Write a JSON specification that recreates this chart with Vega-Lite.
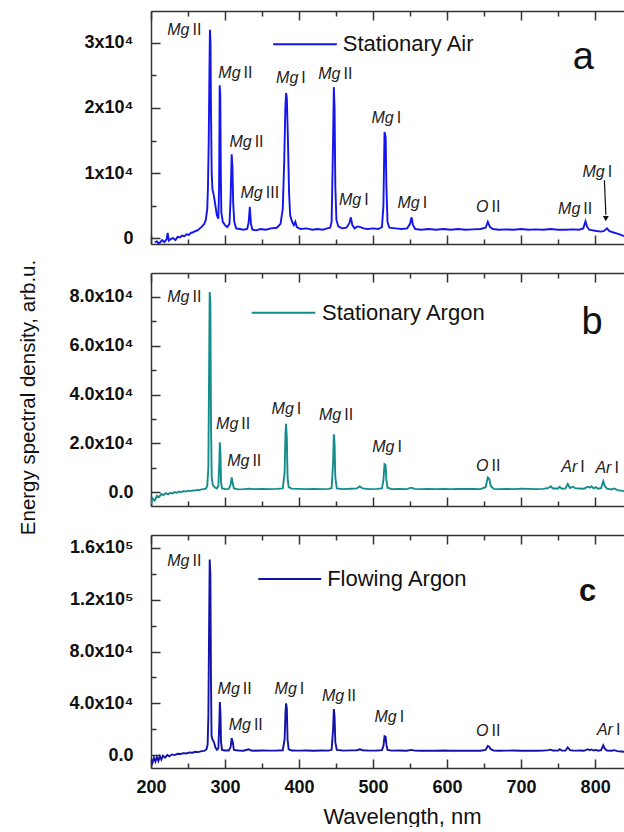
{
"$schema":"https://vega.github.io/schema/vega-lite/v6.json",
"autosize":{"type":"pad"},
"padding":{"left":18,"top":10,"right":0,"bottom":0},
"background":"white",
"spacing":29,
"bounds":"flush",
"config":{"view":{"stroke":null},"font":"Liberation Sans",
"axis":{"labelFont":"Liberation Sans","labelFontWeight":"bold","labelFontSize":18,"labelColor":"#111","domainColor":"#333","domainWidth":1.5,"tickColor":"#333","tickWidth":1.5,"grid":false,"titleFont":"Liberation Sans","titleFontWeight":"normal","titleColor":"#111","labelFlush":false,"labelOverlap":false,"labelBound":false}},
"datasets":{
"a":[{"x":205,"y":-600},{"x":208,"y":-500},{"x":210,"y":-800},{"x":212,"y":-700},{"x":215,"y":-300},{"x":218,"y":-600},{"x":221,"y":-200},{"x":222.5,"y":800},{"x":224,"y":-400},{"x":227,"y":-100},{"x":230,"y":0},{"x":233,"y":-300},{"x":236,"y":200},{"x":239,"y":100},{"x":242,"y":400},{"x":245,"y":300},{"x":248,"y":600},{"x":251,"y":500},{"x":254,"y":800},{"x":257,"y":900},{"x":260,"y":1100},{"x":263,"y":1200},{"x":266,"y":1500},{"x":269,"y":1800},{"x":272,"y":2200},{"x":274,"y":2800},{"x":276,"y":4500},{"x":277,"y":8000},{"x":278,"y":15000},{"x":279,"y":26000},{"x":279.6,"y":32000},{"x":280.4,"y":30000},{"x":281,"y":20000},{"x":282,"y":10000},{"x":283,"y":7500},{"x":285,"y":6500},{"x":287,"y":5000},{"x":289,"y":3500},{"x":291,"y":3000},{"x":292,"y":8000},{"x":292.8,"y":23500},{"x":293.6,"y":22000},{"x":294.3,"y":10000},{"x":295,"y":4000},{"x":297,"y":2500},{"x":300,"y":2000},{"x":303,"y":1700},{"x":306,"y":2200},{"x":307.5,"y":6000},{"x":309,"y":12900},{"x":310,"y":11000},{"x":311,"y":5500},{"x":312.5,"y":2500},{"x":315,"y":1500},{"x":320,"y":1400},{"x":325,"y":1300},{"x":330,"y":1400},{"x":332,"y":2500},{"x":333.5,"y":4800},{"x":335,"y":2200},{"x":337,"y":1300},{"x":342,"y":1200},{"x":348,"y":1400},{"x":355,"y":1300},{"x":362,"y":1500},{"x":370,"y":1600},{"x":375,"y":2200},{"x":378,"y":4500},{"x":380,"y":12000},{"x":381.5,"y":20000},{"x":382.5,"y":22300},{"x":383.5,"y":21500},{"x":385,"y":15000},{"x":386.5,"y":7000},{"x":388,"y":3500},{"x":391,"y":2400},{"x":393,"y":2000},{"x":395,"y":2500},{"x":397,"y":1700},{"x":402,"y":1400},{"x":410,"y":1500},{"x":418,"y":1300},{"x":425,"y":1400},{"x":432,"y":1300},{"x":438,"y":1500},{"x":442,"y":1600},{"x":444,"y":2500},{"x":446,"y":15000},{"x":447,"y":23200},{"x":448,"y":20000},{"x":449,"y":8000},{"x":450.5,"y":2800},{"x":453,"y":1800},{"x":458,"y":1500},{"x":464,"y":1600},{"x":468,"y":2300},{"x":470,"y":3200},{"x":472,"y":2000},{"x":475,"y":1500},{"x":479,"y":1800},{"x":483,"y":1700},{"x":487,"y":1500},{"x":493,"y":1400},{"x":500,"y":1500},{"x":507,"y":1400},{"x":512,"y":1700},{"x":514,"y":5000},{"x":515.5,"y":16300},{"x":517,"y":15500},{"x":518,"y":8000},{"x":519.5,"y":2500},{"x":522,"y":1600},{"x":530,"y":1500},{"x":538,"y":1400},{"x":546,"y":1500},{"x":550,"y":2200},{"x":552,"y":3200},{"x":554,"y":2000},{"x":557,"y":1400},{"x":565,"y":1300},{"x":575,"y":1400},{"x":585,"y":1300},{"x":595,"y":1400},{"x":605,"y":1300},{"x":615,"y":1400},{"x":625,"y":1300},{"x":635,"y":1350},{"x":645,"y":1400},{"x":652,"y":1600},{"x":655,"y":2500},{"x":658,"y":1700},{"x":662,"y":1400},{"x":670,"y":1300},{"x":680,"y":1350},{"x":690,"y":1300},{"x":700,"y":1400},{"x":710,"y":1300},{"x":720,"y":1350},{"x":730,"y":1300},{"x":740,"y":1400},{"x":750,"y":1300},{"x":760,"y":1300},{"x":770,"y":1350},{"x":778,"y":1300},{"x":784,"y":1500},{"x":787,"y":2600},{"x":789,"y":1800},{"x":792,"y":1300},{"x":797,"y":1200},{"x":802,"y":1100},{"x":808,"y":1000},{"x":812,"y":1100},{"x":816,"y":1500},{"x":819,"y":1100},{"x":824,"y":900},{"x":830,"y":700},{"x":835,"y":500},{"x":839,"y":300}],
"b":[{"x":200,"y":-4900},{"x":202,"y":-2500},{"x":205,"y":-3500},{"x":208,"y":-1500},{"x":211,"y":-2000},{"x":214,"y":-800},{"x":217,"y":-1200},{"x":220,"y":-400},{"x":223,"y":-900},{"x":226,"y":-300},{"x":229,"y":-600},{"x":232,"y":0},{"x":235,"y":-300},{"x":238,"y":200},{"x":241,"y":0},{"x":244,"y":400},{"x":247,"y":200},{"x":250,"y":600},{"x":253,"y":400},{"x":256,"y":700},{"x":259,"y":600},{"x":262,"y":900},{"x":265,"y":800},{"x":268,"y":1100},{"x":271,"y":1200},{"x":274,"y":1400},{"x":276,"y":2500},{"x":277.5,"y":10000},{"x":278.5,"y":50000},{"x":279.3,"y":82000},{"x":280.2,"y":78000},{"x":281,"y":30000},{"x":282,"y":6000},{"x":283.5,"y":3000},{"x":286,"y":2000},{"x":289,"y":1500},{"x":291,"y":2500},{"x":292.3,"y":12000},{"x":293,"y":20400},{"x":293.8,"y":16000},{"x":294.6,"y":4000},{"x":296,"y":1500},{"x":300,"y":1200},{"x":305,"y":1300},{"x":307.5,"y":3000},{"x":309,"y":6000},{"x":310.5,"y":3500},{"x":312,"y":1500},{"x":318,"y":1100},{"x":325,"y":1200},{"x":332,"y":1400},{"x":340,"y":1200},{"x":350,"y":1300},{"x":360,"y":1200},{"x":370,"y":1300},{"x":378,"y":1500},{"x":380.5,"y":8000},{"x":381.7,"y":24000},{"x":382.5,"y":28000},{"x":383.5,"y":22000},{"x":384.5,"y":6000},{"x":386,"y":2000},{"x":390,"y":1400},{"x":400,"y":1300},{"x":410,"y":1200},{"x":420,"y":1300},{"x":430,"y":1200},{"x":440,"y":1300},{"x":444,"y":1600},{"x":446,"y":12000},{"x":447,"y":23700},{"x":448,"y":20000},{"x":449,"y":6000},{"x":451,"y":1500},{"x":460,"y":1200},{"x":470,"y":1400},{"x":478,"y":1500},{"x":482,"y":2300},{"x":486,"y":1500},{"x":495,"y":1200},{"x":505,"y":1300},{"x":512,"y":1500},{"x":514,"y":5000},{"x":515.5,"y":11400},{"x":517,"y":11000},{"x":518,"y":5000},{"x":519.5,"y":1800},{"x":525,"y":1200},{"x":535,"y":1300},{"x":545,"y":1200},{"x":552,"y":1800},{"x":556,"y":1300},{"x":565,"y":1200},{"x":575,"y":1300},{"x":585,"y":1200},{"x":595,"y":1300},{"x":605,"y":1200},{"x":615,"y":1300},{"x":625,"y":1250},{"x":635,"y":1300},{"x":645,"y":1200},{"x":652,"y":2000},{"x":655,"y":6000},{"x":657,"y":5500},{"x":659,"y":2500},{"x":663,"y":1300},{"x":670,"y":1200},{"x":680,"y":1300},{"x":690,"y":1200},{"x":700,"y":1400},{"x":710,"y":1300},{"x":720,"y":1200},{"x":730,"y":1300},{"x":737,"y":1700},{"x":740,"y":2400},{"x":743,"y":1500},{"x":750,"y":1500},{"x":752,"y":2200},{"x":755,"y":1400},{"x":760,"y":1500},{"x":763,"y":3300},{"x":766,"y":1700},{"x":770,"y":2200},{"x":773,"y":1600},{"x":778,"y":1500},{"x":785,"y":1400},{"x":790,"y":2200},{"x":793,"y":1800},{"x":795,"y":2400},{"x":798,"y":1500},{"x":801,"y":2000},{"x":804,"y":1400},{"x":808,"y":1600},{"x":811,"y":4500},{"x":813,"y":2500},{"x":816,"y":1400},{"x":822,"y":1100},{"x":826,"y":1500},{"x":830,"y":800},{"x":835,"y":600},{"x":839,"y":400}],
"c":[{"x":200,"y":-3000},{"x":202,"y":-6000},{"x":204,"y":-2000},{"x":206,"y":-5000},{"x":208,"y":-1500},{"x":210,"y":-4500},{"x":212,"y":-1000},{"x":214,"y":-3500},{"x":216,"y":-500},{"x":219,"y":-2000},{"x":222,"y":0},{"x":225,"y":-1000},{"x":228,"y":500},{"x":232,"y":0},{"x":236,"y":1000},{"x":240,"y":800},{"x":244,"y":1500},{"x":248,"y":1200},{"x":252,"y":2000},{"x":256,"y":1800},{"x":260,"y":2500},{"x":264,"y":2300},{"x":268,"y":3000},{"x":272,"y":3200},{"x":275,"y":4500},{"x":276.5,"y":8000},{"x":277.5,"y":30000},{"x":278.5,"y":100000},{"x":279.3,"y":151000},{"x":280.2,"y":140000},{"x":281,"y":60000},{"x":281.8,"y":15000},{"x":283,"y":12000},{"x":285,"y":10000},{"x":287,"y":6000},{"x":289,"y":4000},{"x":291,"y":5000},{"x":292.3,"y":25000},{"x":293,"y":41000},{"x":293.8,"y":33000},{"x":294.6,"y":10000},{"x":296,"y":4000},{"x":300,"y":3500},{"x":305,"y":3500},{"x":307.5,"y":6000},{"x":309,"y":13000},{"x":310.5,"y":10000},{"x":312,"y":4000},{"x":318,"y":3500},{"x":325,"y":3300},{"x":332,"y":4500},{"x":335,"y":3500},{"x":340,"y":3300},{"x":350,"y":3500},{"x":360,"y":3400},{"x":370,"y":3500},{"x":378,"y":3700},{"x":380.5,"y":12000},{"x":381.7,"y":33000},{"x":382.5,"y":40000},{"x":383.5,"y":36000},{"x":384.5,"y":12000},{"x":386,"y":4500},{"x":390,"y":3500},{"x":400,"y":3400},{"x":410,"y":3500},{"x":420,"y":3300},{"x":430,"y":3500},{"x":440,"y":3400},{"x":444,"y":4000},{"x":446,"y":20000},{"x":447,"y":35500},{"x":448,"y":30000},{"x":449,"y":10000},{"x":451,"y":4000},{"x":460,"y":3400},{"x":470,"y":3600},{"x":478,"y":3700},{"x":482,"y":4500},{"x":486,"y":3700},{"x":495,"y":3400},{"x":505,"y":3500},{"x":512,"y":3800},{"x":514,"y":7000},{"x":515.5,"y":14500},{"x":517,"y":14000},{"x":518,"y":8000},{"x":519.5,"y":4000},{"x":525,"y":3400},{"x":535,"y":3500},{"x":545,"y":3300},{"x":552,"y":4000},{"x":556,"y":3400},{"x":565,"y":3300},{"x":575,"y":3400},{"x":585,"y":3300},{"x":595,"y":3500},{"x":605,"y":3300},{"x":615,"y":3400},{"x":625,"y":3300},{"x":635,"y":3400},{"x":645,"y":3300},{"x":652,"y":4000},{"x":655,"y":7000},{"x":657,"y":6500},{"x":659,"y":4500},{"x":663,"y":3400},{"x":670,"y":3300},{"x":680,"y":3400},{"x":690,"y":3500},{"x":700,"y":3300},{"x":710,"y":3400},{"x":720,"y":3300},{"x":730,"y":3400},{"x":737,"y":3800},{"x":740,"y":4200},{"x":743,"y":3500},{"x":750,"y":3400},{"x":752,"y":4500},{"x":755,"y":3500},{"x":760,"y":3400},{"x":763,"y":6000},{"x":766,"y":3800},{"x":770,"y":3500},{"x":775,"y":3400},{"x":780,"y":3500},{"x":785,"y":3300},{"x":790,"y":4500},{"x":793,"y":3800},{"x":795,"y":4300},{"x":798,"y":3500},{"x":801,"y":4000},{"x":804,"y":3400},{"x":808,"y":3800},{"x":811,"y":7500},{"x":813,"y":5000},{"x":816,"y":3500},{"x":822,"y":3300},{"x":826,"y":3800},{"x":830,"y":3000},{"x":835,"y":2700},{"x":839,"y":2500}],
"labels":[
{"p":"a","x":254,"y":32000,"el":"Mg","ion":"II"},{"p":"a","x":323,"y":25400,"el":"Mg","ion":"II"},{"p":"a","x":338,"y":14800,"el":"Mg","ion":"II"},{"p":"a","x":353,"y":6900,"el":"Mg","ion":"III"},{"p":"a","x":401,"y":24600,"el":"Mg","ion":"I"},{"p":"a","x":458,"y":25200,"el":"Mg","ion":"II"},{"p":"a","x":486,"y":5800,"el":"Mg","ion":"I"},{"p":"a","x":530,"y":18500,"el":"Mg","ion":"I"},{"p":"a","x":565,"y":5400,"el":"Mg","ion":"I"},{"p":"a","x":658,"y":4800,"el":"O","ion":"II"},{"p":"a","x":782,"y":4500,"el":"Mg","ion":"II"},{"p":"a","x":815,"y":10200,"el":"Mg","ion":"I"},
{"p":"b","x":254,"y":80000,"el":"Mg","ion":"II"},{"p":"b","x":320,"y":27800,"el":"Mg","ion":"II"},{"p":"b","x":335,"y":12700,"el":"Mg","ion":"II"},{"p":"b","x":395,"y":33900,"el":"Mg","ion":"I"},{"p":"b","x":459,"y":31400,"el":"Mg","ion":"II"},{"p":"b","x":531,"y":18400,"el":"Mg","ion":"I"},{"p":"b","x":658,"y":10600,"el":"O","ion":"II"},{"p":"b","x":778,"y":10200,"el":"Ar","ion":"I"},{"p":"b","x":824,"y":9800,"el":"Ar","ion":"I"},
{"p":"c","x":254,"y":149600,"el":"Mg","ion":"II"},{"p":"c","x":322,"y":51000,"el":"Mg","ion":"II"},{"p":"c","x":337,"y":23000,"el":"Mg","ion":"II"},{"p":"c","x":399,"y":51000,"el":"Mg","ion":"I"},{"p":"c","x":463,"y":46000,"el":"Mg","ion":"II"},{"p":"c","x":534,"y":29500,"el":"Mg","ion":"I"},{"p":"c","x":658,"y":18600,"el":"O","ion":"II"},{"p":"c","x":826,"y":19400,"el":"Ar","ion":"I"}],
"legend":[{"p":"a","x":365,"x2":451,"y":29800,"tx":459,"t":"Stationary Air"},{"p":"b","x":336,"x2":422,"y":73500,"tx":431,"t":"Stationary Argon"},{"p":"c","x":345,"x2":430,"y":136000,"tx":438,"t":"Flowing Argon"}],
"letters":[{"p":"a","x":784,"y":26000,"t":"a"},{"p":"b","x":796,"y":65000,"t":"b"},{"p":"c","x":790,"y":119000,"t":"c"}],
"arrow":[{"x":812.5,"y":8900,"x2":814.5,"y2":3600,"ty":3000}]
},
"vconcat":[
{"width":473,"height":233,"resolve":{"axis":{"x":"independent","y":"independent"}},
"layer":[
{"data":{"name":"a"},"mark":{"type":"line","color":"#1414ee","strokeWidth":1.9,"clip":true},
"encoding":{"x":{"field":"x","type":"quantitative","scale":{"domain":[200,839],"nice":false,"zero":false},"axis":{"orient":"bottom","values":[200,250,300,350,400,450,500,550,600,650,700,750,800],"labels":false,"title":null,"tickSize":{"condition":{"test":"datum.value % 100 === 0","value":-9},"value":-5}}},
"y":{"field":"y","type":"quantitative","scale":{"domain":[-900,34900],"nice":false,"zero":false},"axis":{"orient":"left","values":[0,5000,10000,15000,20000,25000,30000],"title":null,"labelPadding":27,"labelExpr":"datum.value % 10000 === 0 ? (datum.value === 0 ? '0' : (datum.value/10000) + 'x10⁴') : ''","tickSize":{"condition":{"test":"datum.value % 10000 === 0","value":-9},"value":-5}}}}},
{"data":{"name":"legend"},"transform":[{"filter":"datum.p === 'a'"}],"mark":{"type":"rule","color":"#1414ee","strokeWidth":2},
"encoding":{"x":{"field":"x","type":"quantitative","axis":{"orient":"top","values":[200,250,300,350,400,450,500,550,600,650,700,750,800],"labels":false,"title":null,"tickSize":{"condition":{"test":"datum.value % 100 === 0","value":-9},"value":-5}}},"x2":{"field":"x2"},"y":{"field":"y","type":"quantitative","axis":null}}},
{"data":{"name":"legend"},"transform":[{"filter":"datum.p === 'a'"}],"mark":{"type":"text","align":"left","baseline":"middle","fontSize":22,"color":"#111"},
"encoding":{"x":{"field":"tx","type":"quantitative","axis":null},"y":{"field":"y","type":"quantitative","axis":null},"text":{"field":"t"}}},
{"data":{"name":"letters"},"transform":[{"filter":"datum.p === 'a'"}],"mark":{"type":"text","align":"center","baseline":"alphabetic","fontSize":38,"color":"#111"},
"encoding":{"x":{"field":"x","type":"quantitative","axis":null},"y":{"field":"y","type":"quantitative","axis":null},"text":{"field":"t"}}},
{"data":{"name":"labels"},"transform":[{"filter":"datum.p === 'a'"}],"mark":{"type":"text","align":"right","baseline":"middle","fontSize":16,"fontStyle":"italic","dx":-1.5,"color":"#222"},
"encoding":{"x":{"field":"x","type":"quantitative","axis":null},"y":{"field":"y","type":"quantitative","axis":null},"text":{"field":"el"}}},
{"data":{"name":"labels"},"transform":[{"filter":"datum.p === 'a'"}],"mark":{"type":"text","align":"left","baseline":"middle","fontSize":16,"dx":1.5,"color":"#222"},
"encoding":{"x":{"field":"x","type":"quantitative","axis":null},"y":{"field":"y","type":"quantitative","axis":null},"text":{"field":"ion"}}},
{"data":{"name":"arrow"},"mark":{"type":"rule","color":"#111","strokeWidth":1.2},
"encoding":{"x":{"field":"x","type":"quantitative","axis":null},"y":{"field":"y","type":"quantitative","axis":null},"x2":{"field":"x2"},"y2":{"field":"y2"}}},
{"data":{"name":"arrow"},"mark":{"type":"point","shape":"triangle-down","filled":true,"color":"#111","size":35,"opacity":1},
"encoding":{"x":{"field":"x2","type":"quantitative","axis":null},"y":{"field":"ty","type":"quantitative","axis":null}}}
]},
{"width":473,"height":233,"resolve":{"axis":{"x":"independent","y":"independent"}},
"layer":[
{"data":{"name":"b"},"mark":{"type":"line","color":"#158c8c","strokeWidth":1.9,"clip":true},
"encoding":{"x":{"field":"x","type":"quantitative","scale":{"domain":[200,839],"nice":false,"zero":false},"axis":{"orient":"bottom","values":[200,250,300,350,400,450,500,550,600,650,700,750,800],"labels":false,"title":null,"tickSize":{"condition":{"test":"datum.value % 100 === 0","value":-9},"value":-5}}},
"y":{"field":"y","type":"quantitative","scale":{"domain":[-5700,89800],"nice":false,"zero":false},"axis":{"orient":"left","values":[0,10000,20000,30000,40000,50000,60000,70000,80000],"title":"Energy spectral density, arb.u.","titleFontSize":20.5,"titleX":-123,"titleY":124,"titleAngle":-90,"titleAlign":"center","titleBaseline":"middle","labelPadding":27,"labelExpr":"datum.value % 20000 === 0 ? (datum.value === 0 ? '0.0' : format(datum.value/10000, '.1f') + 'x10⁴') : ''","tickSize":{"condition":{"test":"datum.value % 20000 === 0","value":-9},"value":-5}}}}},
{"data":{"name":"legend"},"transform":[{"filter":"datum.p === 'b'"}],"mark":{"type":"rule","color":"#158c8c","strokeWidth":2},
"encoding":{"x":{"field":"x","type":"quantitative","axis":{"orient":"top","values":[200,250,300,350,400,450,500,550,600,650,700,750,800],"labels":false,"title":null,"tickSize":{"condition":{"test":"datum.value % 100 === 0","value":-9},"value":-5}}},"x2":{"field":"x2"},"y":{"field":"y","type":"quantitative","axis":null}}},
{"data":{"name":"legend"},"transform":[{"filter":"datum.p === 'b'"}],"mark":{"type":"text","align":"left","baseline":"middle","fontSize":22,"color":"#111"},
"encoding":{"x":{"field":"tx","type":"quantitative","axis":null},"y":{"field":"y","type":"quantitative","axis":null},"text":{"field":"t"}}},
{"data":{"name":"letters"},"transform":[{"filter":"datum.p === 'b'"}],"mark":{"type":"text","align":"center","baseline":"alphabetic","fontSize":38,"color":"#111"},
"encoding":{"x":{"field":"x","type":"quantitative","axis":null},"y":{"field":"y","type":"quantitative","axis":null},"text":{"field":"t"}}},
{"data":{"name":"labels"},"transform":[{"filter":"datum.p === 'b'"}],"mark":{"type":"text","align":"right","baseline":"middle","fontSize":16,"fontStyle":"italic","dx":-1.5,"color":"#222"},
"encoding":{"x":{"field":"x","type":"quantitative","axis":null},"y":{"field":"y","type":"quantitative","axis":null},"text":{"field":"el"}}},
{"data":{"name":"labels"},"transform":[{"filter":"datum.p === 'b'"}],"mark":{"type":"text","align":"left","baseline":"middle","fontSize":16,"dx":1.5,"color":"#222"},
"encoding":{"x":{"field":"x","type":"quantitative","axis":null},"y":{"field":"y","type":"quantitative","axis":null},"text":{"field":"ion"}}}
]},
{"width":473,"height":233,"resolve":{"axis":{"x":"independent","y":"independent"}},
"layer":[
{"data":{"name":"c"},"mark":{"type":"line","color":"#1212aa","strokeWidth":1.9,"clip":true},
"encoding":{"x":{"field":"x","type":"quantitative","scale":{"domain":[200,839],"nice":false,"zero":false},"axis":{"orient":"bottom","values":[200,250,300,350,400,450,500,550,600,650,700,750,800],"title":"Wavelength, nm","titleFontSize":22,"titleX":251,"titlePadding":6,"labelPadding":19,"labelExpr":"datum.value % 100 === 0 ? datum.label : ''","tickSize":{"condition":{"test":"datum.value % 100 === 0","value":-9},"value":-5}}},
"y":{"field":"y","type":"quantitative","scale":{"domain":[-10000,170000],"nice":false,"zero":false},"axis":{"orient":"left","values":[0,20000,40000,60000,80000,100000,120000,140000,160000],"title":null,"labelPadding":27,"labelExpr":"datum.value % 40000 !== 0 ? '' : datum.value === 0 ? '0.0' : datum.value < 100000 ? format(datum.value/10000, '.1f') + 'x10⁴' : format(datum.value/100000, '.1f') + 'x10⁵'","tickSize":{"condition":{"test":"datum.value % 40000 === 0","value":-9},"value":-5}}}}},
{"data":{"name":"legend"},"transform":[{"filter":"datum.p === 'c'"}],"mark":{"type":"rule","color":"#1212aa","strokeWidth":2},
"encoding":{"x":{"field":"x","type":"quantitative","axis":{"orient":"top","values":[200,250,300,350,400,450,500,550,600,650,700,750,800],"labels":false,"title":null,"tickSize":{"condition":{"test":"datum.value % 100 === 0","value":-9},"value":-5}}},"x2":{"field":"x2"},"y":{"field":"y","type":"quantitative","axis":null}}},
{"data":{"name":"legend"},"transform":[{"filter":"datum.p === 'c'"}],"mark":{"type":"text","align":"left","baseline":"middle","fontSize":22,"color":"#111"},
"encoding":{"x":{"field":"tx","type":"quantitative","axis":null},"y":{"field":"y","type":"quantitative","axis":null},"text":{"field":"t"}}},
{"data":{"name":"letters"},"transform":[{"filter":"datum.p === 'c'"}],"mark":{"type":"text","align":"center","baseline":"alphabetic","fontSize":31,"fontWeight":"bold","color":"#111"},
"encoding":{"x":{"field":"x","type":"quantitative","axis":null},"y":{"field":"y","type":"quantitative","axis":null},"text":{"field":"t"}}},
{"data":{"name":"labels"},"transform":[{"filter":"datum.p === 'c'"}],"mark":{"type":"text","align":"right","baseline":"middle","fontSize":16,"fontStyle":"italic","dx":-1.5,"color":"#222"},
"encoding":{"x":{"field":"x","type":"quantitative","axis":null},"y":{"field":"y","type":"quantitative","axis":null},"text":{"field":"el"}}},
{"data":{"name":"labels"},"transform":[{"filter":"datum.p === 'c'"}],"mark":{"type":"text","align":"left","baseline":"middle","fontSize":16,"dx":1.5,"color":"#222"},
"encoding":{"x":{"field":"x","type":"quantitative","axis":null},"y":{"field":"y","type":"quantitative","axis":null},"text":{"field":"ion"}}}
]}
]
}
